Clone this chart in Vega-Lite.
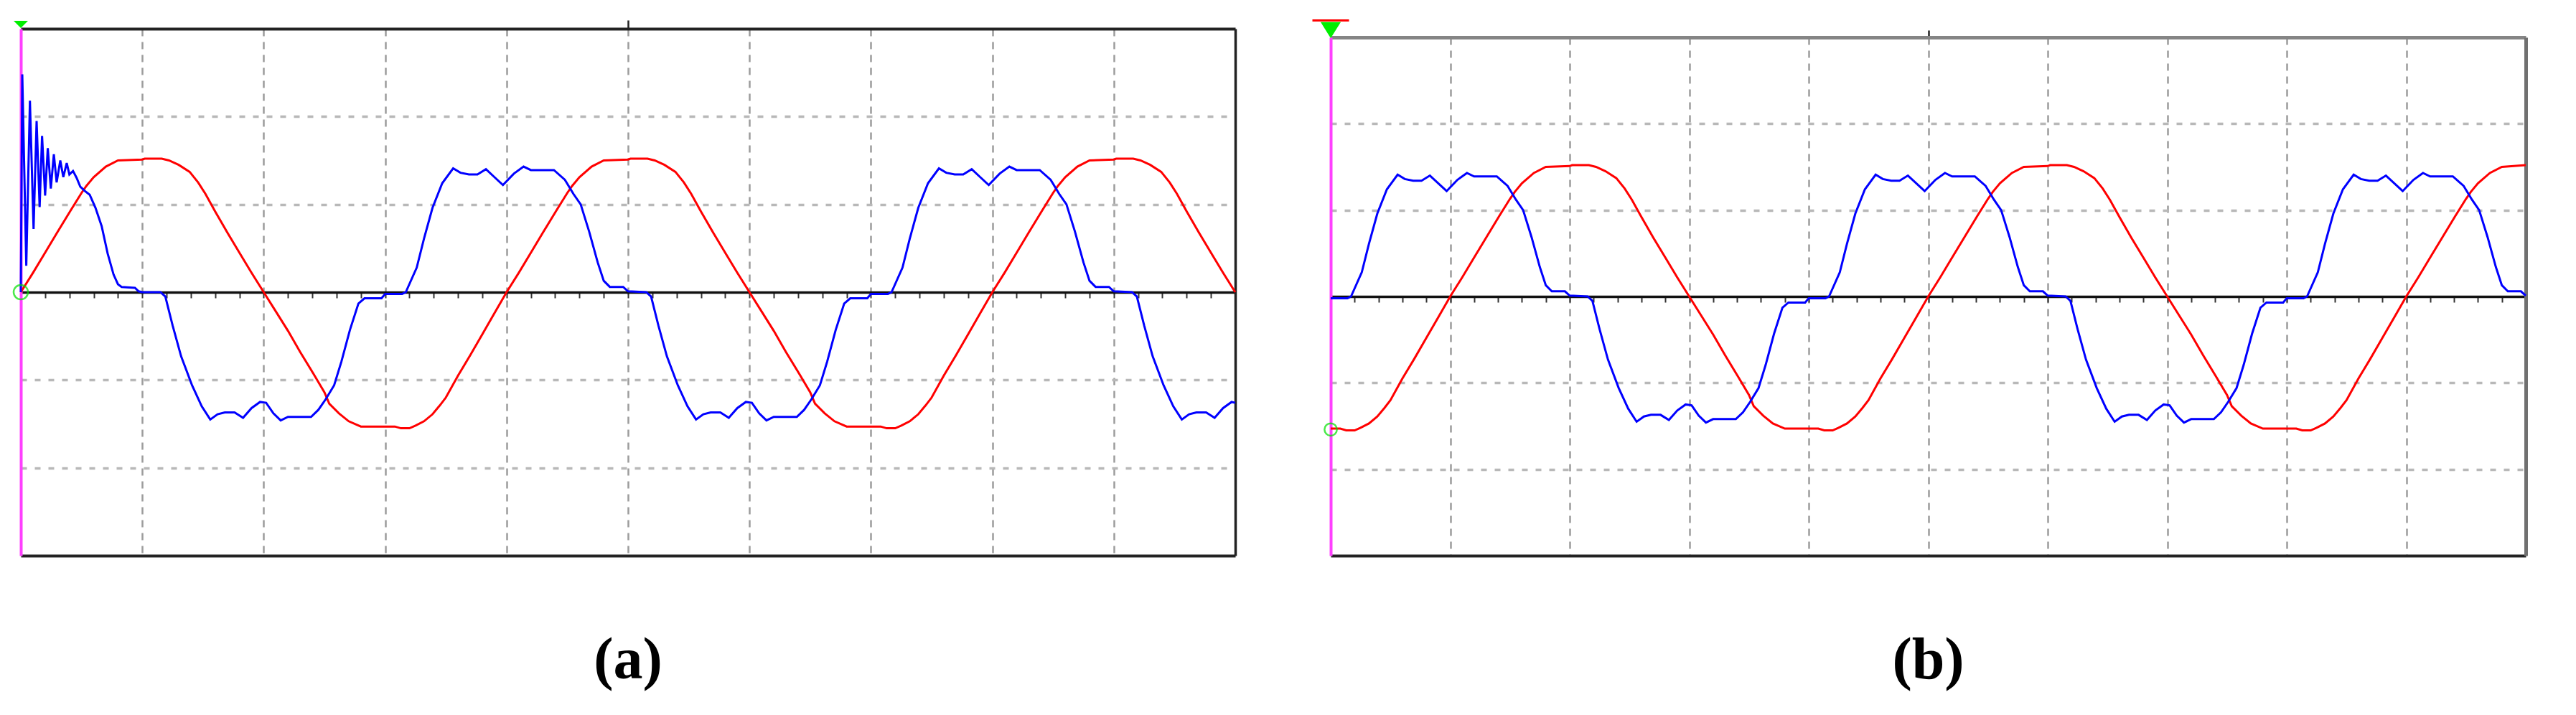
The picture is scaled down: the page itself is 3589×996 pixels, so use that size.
{
  "$schema": "https://vega.github.io/schema/vega-lite/v6.json",
  "background": "white",
  "padding": {"left": 14, "top": 26, "right": 0, "bottom": 40},
  "spacing": 101,
  "config": {"view": {"stroke": null}},
  "datasets": {
    "aRed": [
      {"t":0,"v":0},{"t":0.1,"v":0.22},{"t":0.2,"v":0.45},{"t":0.3,"v":0.68},{"t":0.41,"v":0.93},{"t":0.5,"v":1.13},{"t":0.54,"v":1.21},{"t":0.6,"v":1.31},{"t":0.7,"v":1.43},{"t":0.8,"v":1.5},{"t":1.0,"v":1.51},{"t":1.02,"v":1.52},{"t":1.16,"v":1.52},{"t":1.22,"v":1.5},{"t":1.3,"v":1.45},{"t":1.39,"v":1.37},{"t":1.46,"v":1.25},{"t":1.52,"v":1.12},{"t":1.6,"v":0.92},{"t":1.7,"v":0.68},{"t":1.8,"v":0.45},{"t":1.9,"v":0.22},
      {"t":2.0,"v":0},{"t":2.1,"v":-0.22},{"t":2.2,"v":-0.44},{"t":2.3,"v":-0.68},{"t":2.41,"v":-0.93},{"t":2.5,"v":-1.14},{"t":2.54,"v":-1.27},{"t":2.62,"v":-1.38},{"t":2.7,"v":-1.47},{"t":2.8,"v":-1.53},{"t":3.08,"v":-1.53},{"t":3.13,"v":-1.55},{"t":3.2,"v":-1.55},{"t":3.25,"v":-1.52},{"t":3.32,"v":-1.47},{"t":3.39,"v":-1.39},{"t":3.45,"v":-1.29},{"t":3.5,"v":-1.2},{"t":3.6,"v":-0.95},{"t":3.7,"v":-0.72},{"t":3.8,"v":-0.48},{"t":3.9,"v":-0.24},
      {"t":4.0,"v":0},{"t":4.1,"v":0.22},{"t":4.2,"v":0.45},{"t":4.3,"v":0.68},{"t":4.41,"v":0.93},{"t":4.5,"v":1.13},{"t":4.54,"v":1.21},{"t":4.6,"v":1.31},{"t":4.7,"v":1.43},{"t":4.8,"v":1.5},{"t":5.0,"v":1.51},{"t":5.02,"v":1.52},{"t":5.16,"v":1.52},{"t":5.22,"v":1.5},{"t":5.3,"v":1.45},{"t":5.39,"v":1.37},{"t":5.46,"v":1.25},{"t":5.52,"v":1.12},{"t":5.6,"v":0.92},{"t":5.7,"v":0.68},{"t":5.8,"v":0.45},{"t":5.9,"v":0.22},
      {"t":6.0,"v":0},{"t":6.1,"v":-0.22},{"t":6.2,"v":-0.44},{"t":6.3,"v":-0.68},{"t":6.41,"v":-0.93},{"t":6.5,"v":-1.14},{"t":6.54,"v":-1.27},{"t":6.62,"v":-1.38},{"t":6.7,"v":-1.47},{"t":6.8,"v":-1.53},{"t":7.08,"v":-1.53},{"t":7.13,"v":-1.55},{"t":7.2,"v":-1.55},{"t":7.25,"v":-1.52},{"t":7.32,"v":-1.47},{"t":7.39,"v":-1.39},{"t":7.45,"v":-1.29},{"t":7.5,"v":-1.2},{"t":7.6,"v":-0.95},{"t":7.7,"v":-0.72},{"t":7.8,"v":-0.48},{"t":7.9,"v":-0.24},
      {"t":8.0,"v":0},{"t":8.1,"v":0.22},{"t":8.2,"v":0.45},{"t":8.3,"v":0.68},{"t":8.41,"v":0.93},{"t":8.5,"v":1.13},{"t":8.54,"v":1.21},{"t":8.6,"v":1.31},{"t":8.7,"v":1.43},{"t":8.8,"v":1.5},{"t":9.0,"v":1.51},{"t":9.02,"v":1.52},{"t":9.16,"v":1.52},{"t":9.22,"v":1.5},{"t":9.3,"v":1.45},{"t":9.39,"v":1.37},{"t":9.46,"v":1.25},{"t":9.52,"v":1.12},{"t":9.6,"v":0.92},{"t":9.7,"v":0.68},{"t":9.8,"v":0.45},{"t":9.9,"v":0.22},{"t":10.0,"v":0}
    ],
    "aBlue": [
      {"t":0,"v":0},{"t":0.012,"v":2.48},{"t":0.045,"v":0.3},{"t":0.075,"v":2.18},{"t":0.105,"v":0.72},{"t":0.13,"v":1.95},{"t":0.155,"v":0.97},{"t":0.175,"v":1.78},{"t":0.2,"v":1.1},{"t":0.222,"v":1.64},{"t":0.247,"v":1.18},{"t":0.272,"v":1.57},{"t":0.295,"v":1.25},{"t":0.325,"v":1.5},{"t":0.35,"v":1.31},{"t":0.378,"v":1.47},{"t":0.4,"v":1.34},{"t":0.43,"v":1.38},{"t":0.46,"v":1.3},{"t":0.49,"v":1.2},{"t":0.53,"v":1.15},{"t":0.567,"v":1.11},{"t":0.615,"v":0.96},{"t":0.666,"v":0.75},{"t":0.715,"v":0.44},{"t":0.764,"v":0.2},{"t":0.8,"v":0.09},{"t":0.83,"v":0.06},{"t":0.94,"v":0.05},{"t":0.97,"v":0.01},{"t":1.0,"v":0},
      {"t":1.15,"v":0},{"t":1.19,"v":-0.05},{"t":1.25,"v":-0.38},{"t":1.32,"v":-0.73},{"t":1.41,"v":-1.06},{"t":1.49,"v":-1.3},{"t":1.56,"v":-1.45},{"t":1.62,"v":-1.39},{"t":1.68,"v":-1.37},{"t":1.76,"v":-1.37},{"t":1.83,"v":-1.43},{"t":1.9,"v":-1.32},{"t":1.97,"v":-1.25},{"t":2.02,"v":-1.26},{"t":2.08,"v":-1.38},{"t":2.14,"v":-1.46},{"t":2.2,"v":-1.42},{"t":2.39,"v":-1.42},{"t":2.45,"v":-1.34},{"t":2.51,"v":-1.22},{"t":2.58,"v":-1.06},{"t":2.64,"v":-0.79},{"t":2.71,"v":-0.43},{"t":2.78,"v":-0.13},{"t":2.83,"v":-0.07},{"t":2.97,"v":-0.07},{"t":3.0,"v":-0.02},{"t":3.14,"v":-0.02},{"t":3.17,"v":0},{"t":3.26,"v":0.28},{"t":3.32,"v":0.61},{"t":3.39,"v":0.96},{"t":3.47,"v":1.24},{"t":3.56,"v":1.41},{"t":3.62,"v":1.36},{"t":3.69,"v":1.34},{"t":3.76,"v":1.34},{"t":3.83,"v":1.4},{"t":3.9,"v":1.31},{"t":3.97,"v":1.22},{"t":4.06,"v":1.35},{"t":4.14,"v":1.43},{"t":4.2,"v":1.39},{"t":4.39,"v":1.39},{"t":4.48,"v":1.28},{"t":4.55,"v":1.12},{"t":4.61,"v":1.0},{"t":4.68,"v":0.69},{"t":4.75,"v":0.34},{"t":4.8,"v":0.13},{"t":4.85,"v":0.06},{"t":4.96,"v":0.06},{"t":5.0,"v":0.01},
      {"t":5.15,"v":0},{"t":5.19,"v":-0.05},{"t":5.25,"v":-0.38},{"t":5.32,"v":-0.73},{"t":5.41,"v":-1.06},{"t":5.49,"v":-1.3},{"t":5.56,"v":-1.45},{"t":5.62,"v":-1.39},{"t":5.68,"v":-1.37},{"t":5.76,"v":-1.37},{"t":5.83,"v":-1.43},{"t":5.9,"v":-1.32},{"t":5.97,"v":-1.25},{"t":6.02,"v":-1.26},{"t":6.08,"v":-1.38},{"t":6.14,"v":-1.46},{"t":6.2,"v":-1.42},{"t":6.39,"v":-1.42},{"t":6.45,"v":-1.34},{"t":6.51,"v":-1.22},{"t":6.58,"v":-1.06},{"t":6.64,"v":-0.79},{"t":6.71,"v":-0.43},{"t":6.78,"v":-0.13},{"t":6.83,"v":-0.07},{"t":6.97,"v":-0.07},{"t":7.0,"v":-0.02},{"t":7.14,"v":-0.02},{"t":7.17,"v":0},{"t":7.26,"v":0.28},{"t":7.32,"v":0.61},{"t":7.39,"v":0.96},{"t":7.47,"v":1.24},{"t":7.56,"v":1.41},{"t":7.62,"v":1.36},{"t":7.69,"v":1.34},{"t":7.76,"v":1.34},{"t":7.83,"v":1.4},{"t":7.9,"v":1.31},{"t":7.97,"v":1.22},{"t":8.06,"v":1.35},{"t":8.14,"v":1.43},{"t":8.2,"v":1.39},{"t":8.39,"v":1.39},{"t":8.48,"v":1.28},{"t":8.55,"v":1.12},{"t":8.61,"v":1.0},{"t":8.68,"v":0.69},{"t":8.75,"v":0.34},{"t":8.8,"v":0.13},{"t":8.85,"v":0.06},{"t":8.96,"v":0.06},{"t":9.0,"v":0.01},
      {"t":9.15,"v":0},{"t":9.19,"v":-0.05},{"t":9.25,"v":-0.38},{"t":9.32,"v":-0.73},{"t":9.41,"v":-1.06},{"t":9.49,"v":-1.3},{"t":9.56,"v":-1.45},{"t":9.62,"v":-1.39},{"t":9.68,"v":-1.37},{"t":9.76,"v":-1.37},{"t":9.83,"v":-1.43},{"t":9.9,"v":-1.32},{"t":9.97,"v":-1.25},{"t":10.0,"v":-1.26}
    ],
    "bRed": [
      {"t":0,"v":-1.53},{"t":0.08,"v":-1.53},{"t":0.13,"v":-1.55},{"t":0.2,"v":-1.55},{"t":0.25,"v":-1.52},{"t":0.32,"v":-1.47},{"t":0.39,"v":-1.39},{"t":0.45,"v":-1.29},{"t":0.5,"v":-1.2},{"t":0.6,"v":-0.95},{"t":0.7,"v":-0.72},{"t":0.8,"v":-0.48},{"t":0.9,"v":-0.24},
      {"t":1.0,"v":0},{"t":1.1,"v":0.22},{"t":1.2,"v":0.45},{"t":1.3,"v":0.68},{"t":1.41,"v":0.93},{"t":1.5,"v":1.13},{"t":1.54,"v":1.21},{"t":1.6,"v":1.31},{"t":1.7,"v":1.43},{"t":1.8,"v":1.5},{"t":2.0,"v":1.51},{"t":2.02,"v":1.52},{"t":2.16,"v":1.52},{"t":2.22,"v":1.5},{"t":2.3,"v":1.45},{"t":2.39,"v":1.37},{"t":2.46,"v":1.25},{"t":2.52,"v":1.12},{"t":2.6,"v":0.92},{"t":2.7,"v":0.68},{"t":2.8,"v":0.45},{"t":2.9,"v":0.22},
      {"t":3.0,"v":0},{"t":3.1,"v":-0.22},{"t":3.2,"v":-0.44},{"t":3.3,"v":-0.68},{"t":3.41,"v":-0.93},{"t":3.5,"v":-1.14},{"t":3.54,"v":-1.27},{"t":3.62,"v":-1.38},{"t":3.7,"v":-1.47},{"t":3.8,"v":-1.53},{"t":4.08,"v":-1.53},{"t":4.13,"v":-1.55},{"t":4.2,"v":-1.55},{"t":4.25,"v":-1.52},{"t":4.32,"v":-1.47},{"t":4.39,"v":-1.39},{"t":4.45,"v":-1.29},{"t":4.5,"v":-1.2},{"t":4.6,"v":-0.95},{"t":4.7,"v":-0.72},{"t":4.8,"v":-0.48},{"t":4.9,"v":-0.24},
      {"t":5.0,"v":0},{"t":5.1,"v":0.22},{"t":5.2,"v":0.45},{"t":5.3,"v":0.68},{"t":5.41,"v":0.93},{"t":5.5,"v":1.13},{"t":5.54,"v":1.21},{"t":5.6,"v":1.31},{"t":5.7,"v":1.43},{"t":5.8,"v":1.5},{"t":6.0,"v":1.51},{"t":6.02,"v":1.52},{"t":6.16,"v":1.52},{"t":6.22,"v":1.5},{"t":6.3,"v":1.45},{"t":6.39,"v":1.37},{"t":6.46,"v":1.25},{"t":6.52,"v":1.12},{"t":6.6,"v":0.92},{"t":6.7,"v":0.68},{"t":6.8,"v":0.45},{"t":6.9,"v":0.22},
      {"t":7.0,"v":0},{"t":7.1,"v":-0.22},{"t":7.2,"v":-0.44},{"t":7.3,"v":-0.68},{"t":7.41,"v":-0.93},{"t":7.5,"v":-1.14},{"t":7.54,"v":-1.27},{"t":7.62,"v":-1.38},{"t":7.7,"v":-1.47},{"t":7.8,"v":-1.53},{"t":8.08,"v":-1.53},{"t":8.13,"v":-1.55},{"t":8.2,"v":-1.55},{"t":8.25,"v":-1.52},{"t":8.32,"v":-1.47},{"t":8.39,"v":-1.39},{"t":8.45,"v":-1.29},{"t":8.5,"v":-1.2},{"t":8.6,"v":-0.95},{"t":8.7,"v":-0.72},{"t":8.8,"v":-0.48},{"t":8.9,"v":-0.24},
      {"t":9.0,"v":0},{"t":9.1,"v":0.22},{"t":9.2,"v":0.45},{"t":9.3,"v":0.68},{"t":9.41,"v":0.93},{"t":9.5,"v":1.13},{"t":9.54,"v":1.21},{"t":9.6,"v":1.31},{"t":9.7,"v":1.43},{"t":9.8,"v":1.5},{"t":10.0,"v":1.52}
    ],
    "bBlue": [
      {"t":0,"v":-0.02},{"t":0.14,"v":-0.02},{"t":0.17,"v":0},{"t":0.26,"v":0.28},{"t":0.32,"v":0.61},{"t":0.39,"v":0.96},{"t":0.47,"v":1.24},{"t":0.56,"v":1.41},{"t":0.62,"v":1.36},{"t":0.69,"v":1.34},{"t":0.76,"v":1.34},{"t":0.83,"v":1.4},{"t":0.9,"v":1.31},{"t":0.97,"v":1.22},{"t":1.06,"v":1.35},{"t":1.14,"v":1.43},{"t":1.2,"v":1.39},{"t":1.39,"v":1.39},{"t":1.48,"v":1.28},{"t":1.55,"v":1.12},{"t":1.61,"v":1.0},{"t":1.68,"v":0.69},{"t":1.75,"v":0.34},{"t":1.8,"v":0.13},{"t":1.85,"v":0.06},{"t":1.96,"v":0.06},{"t":2.0,"v":0.01},
      {"t":2.15,"v":0},{"t":2.19,"v":-0.05},{"t":2.25,"v":-0.38},{"t":2.32,"v":-0.73},{"t":2.41,"v":-1.06},{"t":2.49,"v":-1.3},{"t":2.56,"v":-1.45},{"t":2.62,"v":-1.39},{"t":2.68,"v":-1.37},{"t":2.76,"v":-1.37},{"t":2.83,"v":-1.43},{"t":2.9,"v":-1.32},{"t":2.97,"v":-1.25},{"t":3.02,"v":-1.26},{"t":3.08,"v":-1.38},{"t":3.14,"v":-1.46},{"t":3.2,"v":-1.42},{"t":3.39,"v":-1.42},{"t":3.45,"v":-1.34},{"t":3.51,"v":-1.22},{"t":3.58,"v":-1.06},{"t":3.64,"v":-0.79},{"t":3.71,"v":-0.43},{"t":3.78,"v":-0.13},{"t":3.83,"v":-0.07},{"t":3.97,"v":-0.07},{"t":4.0,"v":-0.02},{"t":4.14,"v":-0.02},
      {"t":4.17,"v":0},{"t":4.26,"v":0.28},{"t":4.32,"v":0.61},{"t":4.39,"v":0.96},{"t":4.47,"v":1.24},{"t":4.56,"v":1.41},{"t":4.62,"v":1.36},{"t":4.69,"v":1.34},{"t":4.76,"v":1.34},{"t":4.83,"v":1.4},{"t":4.9,"v":1.31},{"t":4.97,"v":1.22},{"t":5.06,"v":1.35},{"t":5.14,"v":1.43},{"t":5.2,"v":1.39},{"t":5.39,"v":1.39},{"t":5.48,"v":1.28},{"t":5.55,"v":1.12},{"t":5.61,"v":1.0},{"t":5.68,"v":0.69},{"t":5.75,"v":0.34},{"t":5.8,"v":0.13},{"t":5.85,"v":0.06},{"t":5.96,"v":0.06},{"t":6.0,"v":0.01},
      {"t":6.15,"v":0},{"t":6.19,"v":-0.05},{"t":6.25,"v":-0.38},{"t":6.32,"v":-0.73},{"t":6.41,"v":-1.06},{"t":6.49,"v":-1.3},{"t":6.56,"v":-1.45},{"t":6.62,"v":-1.39},{"t":6.68,"v":-1.37},{"t":6.76,"v":-1.37},{"t":6.83,"v":-1.43},{"t":6.9,"v":-1.32},{"t":6.97,"v":-1.25},{"t":7.02,"v":-1.26},{"t":7.08,"v":-1.38},{"t":7.14,"v":-1.46},{"t":7.2,"v":-1.42},{"t":7.39,"v":-1.42},{"t":7.45,"v":-1.34},{"t":7.51,"v":-1.22},{"t":7.58,"v":-1.06},{"t":7.64,"v":-0.79},{"t":7.71,"v":-0.43},{"t":7.78,"v":-0.13},{"t":7.83,"v":-0.07},{"t":7.97,"v":-0.07},{"t":8.0,"v":-0.02},{"t":8.14,"v":-0.02},
      {"t":8.17,"v":0},{"t":8.26,"v":0.28},{"t":8.32,"v":0.61},{"t":8.39,"v":0.96},{"t":8.47,"v":1.24},{"t":8.56,"v":1.41},{"t":8.62,"v":1.36},{"t":8.69,"v":1.34},{"t":8.76,"v":1.34},{"t":8.83,"v":1.4},{"t":8.9,"v":1.31},{"t":8.97,"v":1.22},{"t":9.06,"v":1.35},{"t":9.14,"v":1.43},{"t":9.2,"v":1.39},{"t":9.39,"v":1.39},{"t":9.48,"v":1.28},{"t":9.55,"v":1.12},{"t":9.61,"v":1.0},{"t":9.68,"v":0.69},{"t":9.75,"v":0.34},{"t":9.8,"v":0.13},{"t":9.85,"v":0.06},{"t":9.96,"v":0.06},{"t":10.0,"v":0.01}
    ]
  },
  "hconcat": [
    {
      "width": 1692,
      "height": 734,
      "title": {"text": "(a)", "orient": "bottom", "anchor": "middle", "frame": "group", "font": "Liberation Serif", "fontSize": 82, "fontWeight": "bold", "color": "black", "baseline": "alphabetic", "offset": 171},
      "resolve": {"axis": {"x": "independent", "y": "independent"}},
      "layer": [
        {
          "data": {"name": "aRed"},
          "mark": {"type": "line", "color": "#ff0000", "strokeWidth": 3},
          "encoding": {
            "x": {"field": "t", "type": "quantitative", "scale": {"domain": [0, 10], "nice": false, "zero": false},
                  "axis": {"orient": "bottom", "title": null, "values": [1,2,3,4,5,6,7,8,9], "labels": false, "ticks": false, "grid": true, "gridDash": [10, 8], "gridColor": "#9c9c9c", "gridWidth": 2.5, "domainColor": "#222222", "domainWidth": 4}},
            "y": {"field": "v", "type": "quantitative", "scale": {"domain": [-3, 3], "nice": false, "zero": false},
                  "axis": {"orient": "left", "title": null, "values": [-2,-1,1,2], "labels": false, "ticks": false, "grid": true, "gridDash": [8, 11], "gridColor": "#b8b8b8", "gridWidth": 3.5, "domainColor": "#ff40ff", "domainWidth": 4}}
          }
        },
        {
          "data": {"name": "aBlue"},
          "mark": {"type": "line", "color": "#0000ff", "strokeWidth": 3},
          "encoding": {
            "x": {"field": "t", "type": "quantitative", "scale": {"domain": [0, 10], "nice": false, "zero": false},
                  "axis": {"orient": "top", "title": null, "values": [5], "labels": false, "ticks": true, "tickSize": 12, "tickWidth": 2.5, "tickColor": "#222222", "grid": false, "domainColor": "#222222", "domainWidth": 4}},
            "y": {"field": "v", "type": "quantitative", "scale": {"domain": [-3, 3], "nice": false, "zero": false},
                  "axis": {"orient": "right", "title": null, "labels": false, "ticks": false, "grid": false, "domainColor": "#222222", "domainWidth": 3.5}}
          }
        },
        {
          "data": {"values": [{"t": 0, "v": 0}]},
          "mark": {"type": "point", "shape": "circle", "size": 400, "filled": false, "stroke": "#00e000", "strokeWidth": 2.5},
          "encoding": {
            "x": {"field": "t", "type": "quantitative", "scale": {"domain": [0, 10], "nice": false, "zero": false},
                  "axis": {"orient": "bottom", "offset": -367, "title": null, "values": [0,0.2,0.4,0.6,0.8,1,1.2,1.4,1.6,1.8,2,2.2,2.4,2.6,2.8,3,3.2,3.4,3.6,3.8,4,4.2,4.4,4.6,4.8,5,5.2,5.4,5.6,5.8,6,6.2,6.4,6.6,6.8,7,7.2,7.4,7.6,7.8,8,8.2,8.4,8.6,8.8,9,9.2,9.4,9.6,9.8,10], "labels": false, "ticks": true, "tickSize": 8, "tickWidth": 2, "tickColor": "#333333", "grid": false, "domainColor": "#111111", "domainWidth": 3.5}},
            "y": {"field": "v", "type": "quantitative", "scale": {"domain": [-3, 3], "nice": false, "zero": false}, "axis": null}
          }
        },
        {
          "data": {"values": [{"t": 0, "v": 3}]},
          "mark": {"type": "point", "shape": "M-1,-0.5L1,-0.5L0,0.5Z", "size": 400, "filled": true, "fill": "#00ee00", "strokeWidth": 0, "opacity": 1, "yOffset": -6},
          "encoding": {
            "x": {"field": "t", "type": "quantitative", "scale": {"domain": [0, 10], "nice": false, "zero": false}, "axis": null},
            "y": {"field": "v", "type": "quantitative", "scale": {"domain": [-3, 3], "nice": false, "zero": false}, "axis": null}
          }
        }
      ]
    },
    {
      "bounds": "flush",
      "spacing": 11,
      "vconcat": [
        {
          "width": 1665,
          "height": 1,
          "data": {"values": []},
          "mark": {"type": "point", "opacity": 0},
          "encoding": {}
        },
        {
          "width": 1665,
          "height": 722,
          "title": {"text": "(b)", "orient": "bottom", "anchor": "middle", "frame": "group", "font": "Liberation Serif", "fontSize": 82, "fontWeight": "bold", "color": "black", "baseline": "alphabetic", "offset": 171},
          "resolve": {"axis": {"x": "independent", "y": "independent"}},
          "layer": [
            {
              "data": {"name": "bRed"},
              "mark": {"type": "line", "color": "#ff0000", "strokeWidth": 3},
              "encoding": {
                "x": {"field": "t", "type": "quantitative", "scale": {"domain": [0, 10], "nice": false, "zero": false},
                      "axis": {"orient": "bottom", "title": null, "values": [1,2,3,4,5,6,7,8,9], "labels": false, "ticks": false, "grid": true, "gridDash": [10, 8], "gridColor": "#9c9c9c", "gridWidth": 2.5, "domainColor": "#222222", "domainWidth": 4}},
                "y": {"field": "v", "type": "quantitative", "scale": {"domain": [-3, 3], "nice": false, "zero": false},
                      "axis": {"orient": "left", "title": null, "values": [-2,-1,1,2], "labels": false, "ticks": false, "grid": true, "gridDash": [8, 11], "gridColor": "#b8b8b8", "gridWidth": 3.5, "domainColor": "#ff40ff", "domainWidth": 4}}
              }
            },
            {
              "data": {"name": "bBlue"},
              "mark": {"type": "line", "color": "#0000ff", "strokeWidth": 3},
              "encoding": {
                "x": {"field": "t", "type": "quantitative", "scale": {"domain": [0, 10], "nice": false, "zero": false},
                      "axis": {"orient": "top", "title": null, "values": [5], "labels": false, "ticks": true, "tickSize": 10, "tickWidth": 2.5, "tickColor": "#222222", "grid": false, "domainColor": "#858585", "domainWidth": 5}},
                "y": {"field": "v", "type": "quantitative", "scale": {"domain": [-3, 3], "nice": false, "zero": false},
                      "axis": {"orient": "right", "title": null, "labels": false, "ticks": false, "grid": false, "domainColor": "#707070", "domainWidth": 5}}
              }
            },
            {
              "data": {"values": [{"t": 0, "v": -1.54}]},
              "mark": {"type": "point", "shape": "circle", "size": 300, "filled": false, "stroke": "#00e000", "strokeWidth": 2.5},
              "encoding": {
                "x": {"field": "t", "type": "quantitative", "scale": {"domain": [0, 10], "nice": false, "zero": false},
                      "axis": {"orient": "bottom", "offset": -361, "title": null, "values": [0,0.2,0.4,0.6,0.8,1,1.2,1.4,1.6,1.8,2,2.2,2.4,2.6,2.8,3,3.2,3.4,3.6,3.8,4,4.2,4.4,4.6,4.8,5,5.2,5.4,5.6,5.8,6,6.2,6.4,6.6,6.8,7,7.2,7.4,7.6,7.8,8,8.2,8.4,8.6,8.8,9,9.2,9.4,9.6,9.8,10], "labels": false, "ticks": true, "tickSize": 8, "tickWidth": 2, "tickColor": "#333333", "grid": false, "domainColor": "#111111", "domainWidth": 3.5}},
                "y": {"field": "v", "type": "quantitative", "scale": {"domain": [-3, 3], "nice": false, "zero": false}, "axis": null}
              }
            },
            {
              "data": {"values": [{"t": 0, "v": 3}]},
              "mark": {"type": "point", "shape": "M-1,-0.06L1,-0.06L1,0.06L-1,0.06Z", "size": 2601, "filled": true, "fill": "#ff0000", "strokeWidth": 0, "opacity": 1, "yOffset": -23.5},
              "encoding": {
                "x": {"field": "t", "type": "quantitative", "scale": {"domain": [0, 10], "nice": false, "zero": false}, "axis": null},
                "y": {"field": "v", "type": "quantitative", "scale": {"domain": [-3, 3], "nice": false, "zero": false}, "axis": null}
              }
            },
            {
              "data": {"values": [{"t": 0, "v": 3}]},
              "mark": {"type": "point", "shape": "M-1,-0.8L1,-0.8L0,0.8Z", "size": 784, "filled": true, "fill": "#00ee00", "strokeWidth": 0, "opacity": 1, "yOffset": -10},
              "encoding": {
                "x": {"field": "t", "type": "quantitative", "scale": {"domain": [0, 10], "nice": false, "zero": false}, "axis": null},
                "y": {"field": "v", "type": "quantitative", "scale": {"domain": [-3, 3], "nice": false, "zero": false}, "axis": null}
              }
            }
          ]
        }
      ]
    }
  ]
}
